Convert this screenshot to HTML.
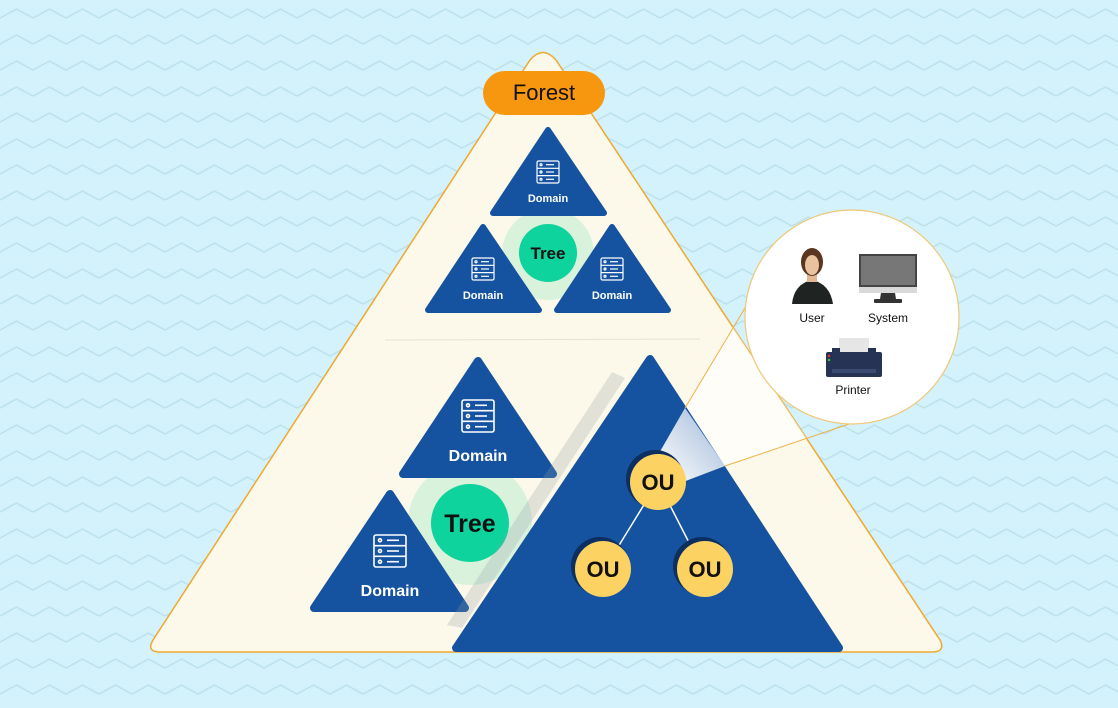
<!DOCTYPE html>
<html><head><meta charset="utf-8"><style>
html,body{margin:0;padding:0;width:1118px;height:708px;overflow:hidden;background:#d4f2fb}
svg{display:block}
text{font-family:"Liberation Sans",sans-serif}
</style></head><body>
<svg width="1118" height="708" viewBox="0 0 1118 708" xmlns="http://www.w3.org/2000/svg">
<defs>
<pattern id="zz" width="33" height="26" patternUnits="userSpaceOnUse" y="4">
<path d="M0 14 L16.5 5 L33 14" fill="none" stroke="#bee2ec" stroke-width="1.6"/>
</pattern>
<linearGradient id="beam" x1="0" y1="1" x2="1" y2="0">
<stop offset="0" stop-color="#ffffff"/><stop offset="1" stop-color="#9fb8d8"/>
</linearGradient>
<clipPath id="fc"><path d="M530 60 Q543 45 556 60 L940 640 Q946 652 932 652 L160 652 Q146 652 153 640 Z"/></clipPath>
</defs>
<rect width="1118" height="708" fill="#d4f2fb"/>
<rect width="1118" height="708" fill="url(#zz)"/>
<path d="M530 60 Q543 45 556 60 L940 640 Q946 652 932 652 L160 652 Q146 652 153 640 Z" fill="#fcf9ea" stroke="#f0a830" stroke-width="1.5"/>
<line x1="385" y1="340" x2="700" y2="339" stroke="#e6e2d4" stroke-width="1"/>
<rect x="483" y="71" width="122" height="44" rx="22" fill="#f7960f"/>
<text x="544" y="100" font-size="22" text-anchor="middle" fill="#111">Forest</text>
<circle cx="548" cy="254" r="46" fill="#d8f2dc"/>
<g fill="#1553a0" stroke="#1553a0" stroke-width="6" stroke-linejoin="round">
<polygon points="548,130 604,213 493,213"/>
<polygon points="483,227 539,310 428,310"/>
<polygon points="612,227 668,310 557,310"/>
</g>
<circle cx="548" cy="253" r="29" fill="#0fd39c"/>
<text x="548" y="259" font-size="17" font-weight="bold" text-anchor="middle" fill="#111">Tree</text>
<g fill="none" stroke="#fff" stroke-width="1.2">
<g transform="translate(537,161)"><rect width="22" height="22" rx="1.5"/><line x1="0" y1="7.3" x2="22" y2="7.3"/><line x1="0" y1="14.6" x2="22" y2="14.6"/><circle cx="4" cy="3.7" r="1"/><circle cx="4" cy="11" r="1"/><circle cx="4" cy="18.3" r="1"/><line x1="9" y1="3.7" x2="17" y2="3.7"/><line x1="9" y1="11" x2="17" y2="11"/><line x1="9" y1="18.3" x2="17" y2="18.3"/></g>
<g transform="translate(472,258)"><rect width="22" height="22" rx="1.5"/><line x1="0" y1="7.3" x2="22" y2="7.3"/><line x1="0" y1="14.6" x2="22" y2="14.6"/><circle cx="4" cy="3.7" r="1"/><circle cx="4" cy="11" r="1"/><circle cx="4" cy="18.3" r="1"/><line x1="9" y1="3.7" x2="17" y2="3.7"/><line x1="9" y1="11" x2="17" y2="11"/><line x1="9" y1="18.3" x2="17" y2="18.3"/></g>
<g transform="translate(601,258)"><rect width="22" height="22" rx="1.5"/><line x1="0" y1="7.3" x2="22" y2="7.3"/><line x1="0" y1="14.6" x2="22" y2="14.6"/><circle cx="4" cy="3.7" r="1"/><circle cx="4" cy="11" r="1"/><circle cx="4" cy="18.3" r="1"/><line x1="9" y1="3.7" x2="17" y2="3.7"/><line x1="9" y1="11" x2="17" y2="11"/><line x1="9" y1="18.3" x2="17" y2="18.3"/></g>
</g>
<text x="548" y="202" font-size="11" font-weight="bold" text-anchor="middle" fill="#fff">Domain</text>
<text x="483" y="299" font-size="11" font-weight="bold" text-anchor="middle" fill="#fff">Domain</text>
<text x="612" y="299" font-size="11" font-weight="bold" text-anchor="middle" fill="#fff">Domain</text>
<circle cx="470" cy="523" r="62" fill="#d8f2dc"/>
<g fill="#1553a0" stroke="#1553a0" stroke-width="8" stroke-linejoin="round">
<polygon points="478,361 553,474 403,474"/>
<polygon points="390,494 465,608 314,608"/>
</g>
<circle cx="470" cy="523" r="39" fill="#0fd39c"/>
<text x="470" y="532" font-size="25" font-weight="bold" text-anchor="middle" fill="#111">Tree</text>
<g fill="none" stroke="#fff" stroke-width="1.6">
<g transform="translate(462,400)"><rect width="32" height="32" rx="2"/><line x1="0" y1="10.7" x2="32" y2="10.7"/><line x1="0" y1="21.3" x2="32" y2="21.3"/><circle cx="6" cy="5.3" r="1.5"/><circle cx="6" cy="16" r="1.5"/><circle cx="6" cy="26.7" r="1.5"/><line x1="13" y1="5.3" x2="25" y2="5.3"/><line x1="13" y1="16" x2="25" y2="16"/><line x1="13" y1="26.7" x2="25" y2="26.7"/></g>
<g transform="translate(374,535)"><rect width="32" height="32" rx="2"/><line x1="0" y1="10.7" x2="32" y2="10.7"/><line x1="0" y1="21.3" x2="32" y2="21.3"/><circle cx="6" cy="5.3" r="1.5"/><circle cx="6" cy="16" r="1.5"/><circle cx="6" cy="26.7" r="1.5"/><line x1="13" y1="5.3" x2="25" y2="5.3"/><line x1="13" y1="16" x2="25" y2="16"/><line x1="13" y1="26.7" x2="25" y2="26.7"/></g>
</g>
<text x="478" y="461" font-size="16" font-weight="bold" text-anchor="middle" fill="#fff">Domain</text>
<text x="390" y="596" font-size="16" font-weight="bold" text-anchor="middle" fill="#fff">Domain</text>
<polygon points="612,372 625,378 462,628 447,625" fill="#8f9aa3" opacity="0.25"/>
<polygon points="685,408 747,302 930,350 858,423 725,466" fill="#ffffff" opacity="0.6" clip-path="url(#fc)"/>
<polygon points="650,359 839,648 456,648" fill="#1553a0" stroke="#1553a0" stroke-width="8" stroke-linejoin="round"/>
<polygon points="658,455 685,408 725,466 683,482" fill="url(#beam)"/>
<line x1="685" y1="408" x2="748" y2="303" stroke="#f0b040" stroke-width="1"/>
<line x1="725" y1="466" x2="855" y2="422" stroke="#f0b040" stroke-width="1"/>
<circle cx="852" cy="317" r="107" fill="#fff" stroke="#f0c878" stroke-width="1.2"/>
<path d="M792 304 Q794 284 812 280 Q830 284 833 304 Z" fill="#1f2322"/>
<rect x="807" y="270" width="10" height="12" fill="#e2b793"/>
<ellipse cx="812" cy="262" rx="11" ry="14" fill="#5a3520"/>
<ellipse cx="812" cy="265" rx="7" ry="10" fill="#e9c3a0"/>
<text x="812" y="322" font-size="12" text-anchor="middle" fill="#111">User</text>
<rect x="859" y="254" width="58" height="39" fill="#d9d9d9"/>
<rect x="859" y="254" width="58" height="33" fill="#444"/>
<rect x="861" y="256" width="54" height="29" fill="#777"/>
<polygon points="881,293 895,293 896,299 880,299" fill="#333"/>
<rect x="874" y="299" width="28" height="4" rx="1" fill="#333"/>
<text x="888" y="322" font-size="12" text-anchor="middle" fill="#111">System</text>
<rect x="839" y="338" width="30" height="15" fill="#e6e6e6"/>
<rect x="826" y="352" width="56" height="25" rx="2" fill="#273354"/>
<rect x="832" y="348" width="8" height="6" fill="#273354"/><rect x="868" y="348" width="8" height="6" fill="#273354"/>
<rect x="832" y="369" width="44" height="4" fill="#3a4a70"/>
<circle cx="829" cy="356" r="1.2" fill="#e33"/><circle cx="829" cy="360" r="1.2" fill="#3c3"/>
<text x="853" y="394" font-size="12" text-anchor="middle" fill="#111">Printer</text>
<line x1="658" y1="482" x2="610" y2="560" stroke="#fff" stroke-width="1.5"/>
<line x1="658" y1="482" x2="698" y2="560" stroke="#fff" stroke-width="1.5"/>
<g fill="#0d2f5f"><circle cx="655" cy="479" r="29"/><circle cx="600" cy="566" r="29"/><circle cx="702" cy="566" r="29"/></g>
<g fill="#fcd262"><circle cx="658" cy="482" r="28"/><circle cx="603" cy="569" r="28"/><circle cx="705" cy="569" r="28"/></g>
<g font-size="22" font-weight="bold" text-anchor="middle" fill="#111">
<text x="658" y="490">OU</text><text x="603" y="577">OU</text><text x="705" y="577">OU</text>
</g>
</svg>
</body></html>
